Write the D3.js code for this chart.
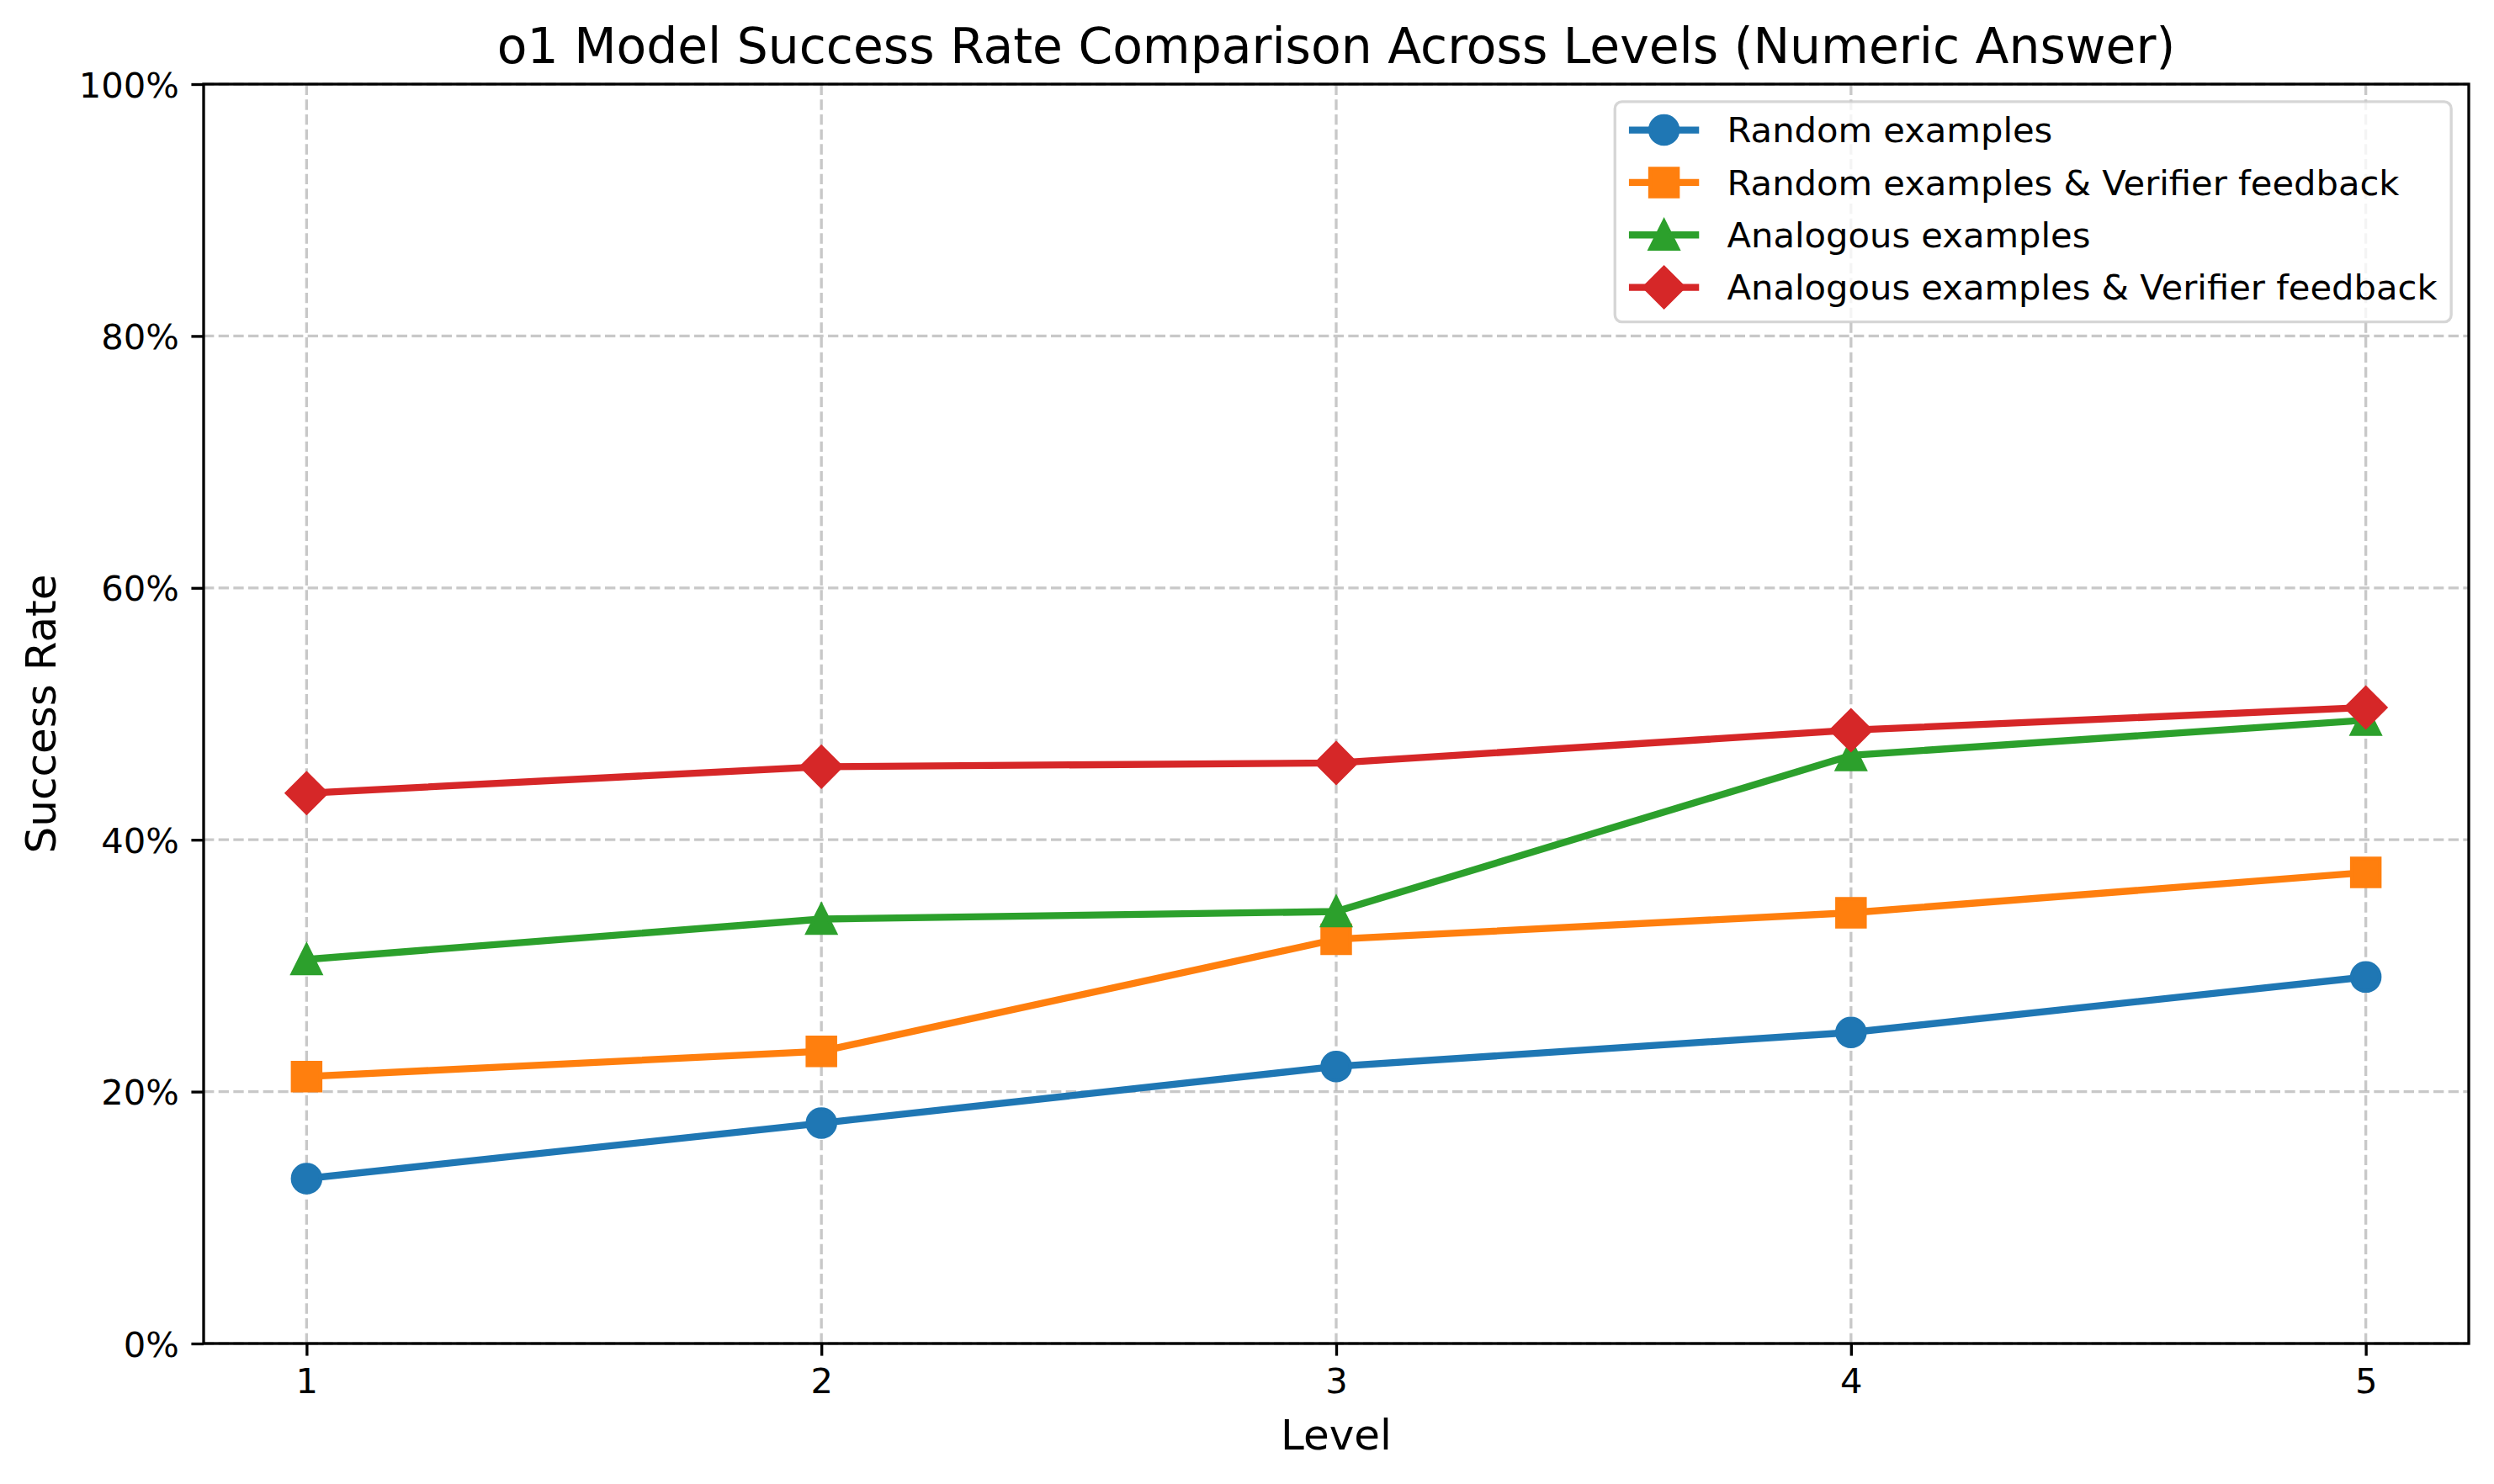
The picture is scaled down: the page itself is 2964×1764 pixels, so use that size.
<!DOCTYPE html>
<html>
<head>
<meta charset="utf-8">
<script src="https://cdn.jsdelivr.net/npm/d3@7"></script>
<style>
  body { margin: 0; background: #fff; }
  svg { display: block; font-family: "DejaVu Sans", sans-serif; }
</style>
</head>
<body>
<svg id="chart" width="2964" height="1764"></svg>
<script>
// chart values (success rate in %)
const levels = [1, 2, 3, 4, 5];
const randomEx = [13.1, 17.5, 22.0, 24.7, 29.1];
const randomVerifier = [21.2, 23.2, 32.1, 34.2, 37.4];
const analogousEx = [30.5, 33.7, 34.3, 46.7, 49.5];
const analogousVerifier = [43.7, 45.8, 46.1, 48.7, 50.5];
const seriesNames = ["Random examples", "Random examples & Verifier feedback",
  "Analogous examples", "Analogous examples & Verifier feedback"];
const yTicks = [0, 20, 40, 60, 80, 100];

const seriesValues = [randomEx, randomVerifier, analogousEx, analogousVerifier];
const colors = ["#1f77b4", "#ff7f0e", "#2ca02c", "#d62728"];
const markers = ["circle", "square", "triangle", "diamond"];

// matplotlib at 300 dpi: 1pt = 300/72 px
const pt = 300 / 72;
const plotL = 242, plotR = 2934, plotT = 100, plotB = 1597;

const svg = d3.select("#chart");

const x = d3.scaleLinear().domain([0.8, 5.2]).range([plotL, plotR]);
const y = d3.scaleLinear().domain([0, 100]).range([plotB, plotT]);

// grid
const grid = svg.append("g")
  .attr("stroke", "#b0b0b0").attr("stroke-opacity", 0.7)
  .attr("stroke-width", 0.8 * pt)
  .attr("stroke-dasharray", `${2.96 * pt},${1.28 * pt}`);
grid.selectAll(".gx").data(levels).join("line")
  .attr("class", "gx")
  .attr("x1", d => x(d)).attr("x2", d => x(d))
  .attr("y1", plotB).attr("y2", plotT);
grid.selectAll(".gy").data(yTicks).join("line")
  .attr("class", "gy")
  .attr("x1", plotL).attr("x2", plotR)
  .attr("y1", d => y(d)).attr("y2", d => y(d));

// marker shapes like matplotlib (size 8pt, edge 1pt)
function markerPath(type, s) {
  const h = s / 2;
  if (type === "circle") {
    return `M${-h},0A${h},${h} 0 1,0 ${h},0A${h},${h} 0 1,0 ${-h},0Z`;
  } else if (type === "square") {
    return `M${-h},${-h}H${h}V${h}H${-h}Z`;
  } else if (type === "triangle") {
    return `M0,${-h}L${h},${h}L${-h},${h}Z`;
  } else {
    const d = s * Math.SQRT1_2;
    return `M0,${-d}L${d},0L0,${d}L${-d},0Z`;
  }
}
const msize = 8 * pt;

const line = d3.line().x(d => x(d[0])).y(d => y(d[1]));

seriesValues.forEach((vals, i) => {
  const pts = levels.map((l, j) => [l, vals[j]]);
  const g = svg.append("g");
  g.append("path")
    .attr("d", line(pts))
    .attr("fill", "none")
    .attr("stroke", colors[i])
    .attr("stroke-width", 2 * pt)
    .attr("stroke-linejoin", "round")
    .attr("stroke-linecap", "square");
  g.selectAll("path.m").data(pts).join("path")
    .attr("class", "m")
    .attr("transform", d => `translate(${x(d[0])},${y(d[1])})`)
    .attr("d", markerPath(markers[i], msize))
    .attr("fill", colors[i])
    .attr("stroke", colors[i])
    .attr("stroke-width", 1 * pt);
});

// spines
svg.append("rect")
  .attr("x", plotL).attr("y", plotT)
  .attr("width", plotR - plotL).attr("height", plotB - plotT)
  .attr("fill", "none").attr("stroke", "#000").attr("stroke-width", 0.8 * pt);

// axes
const tickLen = 3.5 * pt;
const fs = 10 * pt;
const xAxis = svg.append("g")
  .attr("transform", `translate(0,${plotB})`)
  .call(d3.axisBottom(x).tickValues(levels).tickFormat(d3.format("d"))
    .tickSize(tickLen).tickPadding(tickLen));
const yAxis = svg.append("g")
  .attr("transform", `translate(${plotL},0)`)
  .call(d3.axisLeft(y).tickValues(yTicks).tickFormat(d => d + "%")
    .tickSize(tickLen).tickPadding(tickLen));
[xAxis, yAxis].forEach(a => {
  a.select(".domain").remove();
  a.selectAll(".tick line").attr("stroke", "#000").attr("stroke-width", 0.8 * pt);
  a.selectAll(".tick text")
    .attr("fill", "#000")
    .style("font-family", "DejaVu Sans")
    .style("font-size", fs + "px");
});
yAxis.selectAll(".tick text").attr("dy", "0.36em");

// title and labels
svg.append("text")
  .attr("x", (plotL + plotR) / 2).attr("y", 75)
  .attr("text-anchor", "middle")
  .style("font-size", (14 * pt) + "px")
  .text("o1 Model Success Rate Comparison Across Levels (Numeric Answer)");
svg.append("text")
  .attr("x", (plotL + plotR) / 2).attr("y", 1723)
  .attr("text-anchor", "middle")
  .style("font-size", (12 * pt) + "px")
  .text("Level");
svg.append("text")
  .attr("transform", `translate(66,${(plotT + plotB) / 2}) rotate(-90)`)
  .attr("text-anchor", "middle")
  .style("font-size", (12 * pt) + "px")
  .text("Success Rate");

// legend
const pad = 0.4 * fs, handleLen = 2 * fs, textPad = 0.8 * fs;
const rowH = 0.996 * fs, rowGap = 0.5 * fs;
const legend = svg.append("g");
const frame = legend.append("rect");
const legendItems = legend.selectAll("g.item").data(seriesNames).join("g").attr("class", "item");
const texts = legendItems.append("text")
  .style("font-size", fs + "px")
  .text(d => d);
let maxW = 0;
texts.each(function () { maxW = Math.max(maxW, this.getComputedTextLength()); });
const legW = pad * 2 + handleLen + textPad + maxW;
const legH = pad * 2 + rowH * 4 + rowGap * 3;
const legRight = plotR - 0.5 * fs, legTop = plotT + 0.5 * fs;
const legLeft = legRight - legW;
frame.attr("x", legLeft).attr("y", legTop)
  .attr("width", legW).attr("height", legH)
  .attr("rx", 0.2 * fs).attr("ry", 0.2 * fs)
  .attr("fill", "#fff").attr("fill-opacity", 0.8)
  .attr("stroke", "#ccc").attr("stroke-opacity", 0.8)
  .attr("stroke-width", 0.8 * pt);
legendItems.each(function (d, i) {
  const g = d3.select(this);
  const base = legTop + pad + rowH - 0.236 * fs + i * (rowH + rowGap);
  const cy = base - 0.35 * fs;
  const x0 = legLeft + pad;
  g.select("text").attr("x", x0 + handleLen + textPad).attr("y", base);
  g.insert("line", "text")
    .attr("x1", x0).attr("x2", x0 + handleLen)
    .attr("y1", cy).attr("y2", cy)
    .attr("stroke", colors[i]).attr("stroke-width", 2 * pt);
  g.insert("path", "text")
    .attr("transform", `translate(${x0 + handleLen / 2},${cy})`)
    .attr("d", markerPath(markers[i], msize))
    .attr("fill", colors[i]).attr("stroke", colors[i]).attr("stroke-width", 1 * pt);
});
</script>
</body>
</html>
